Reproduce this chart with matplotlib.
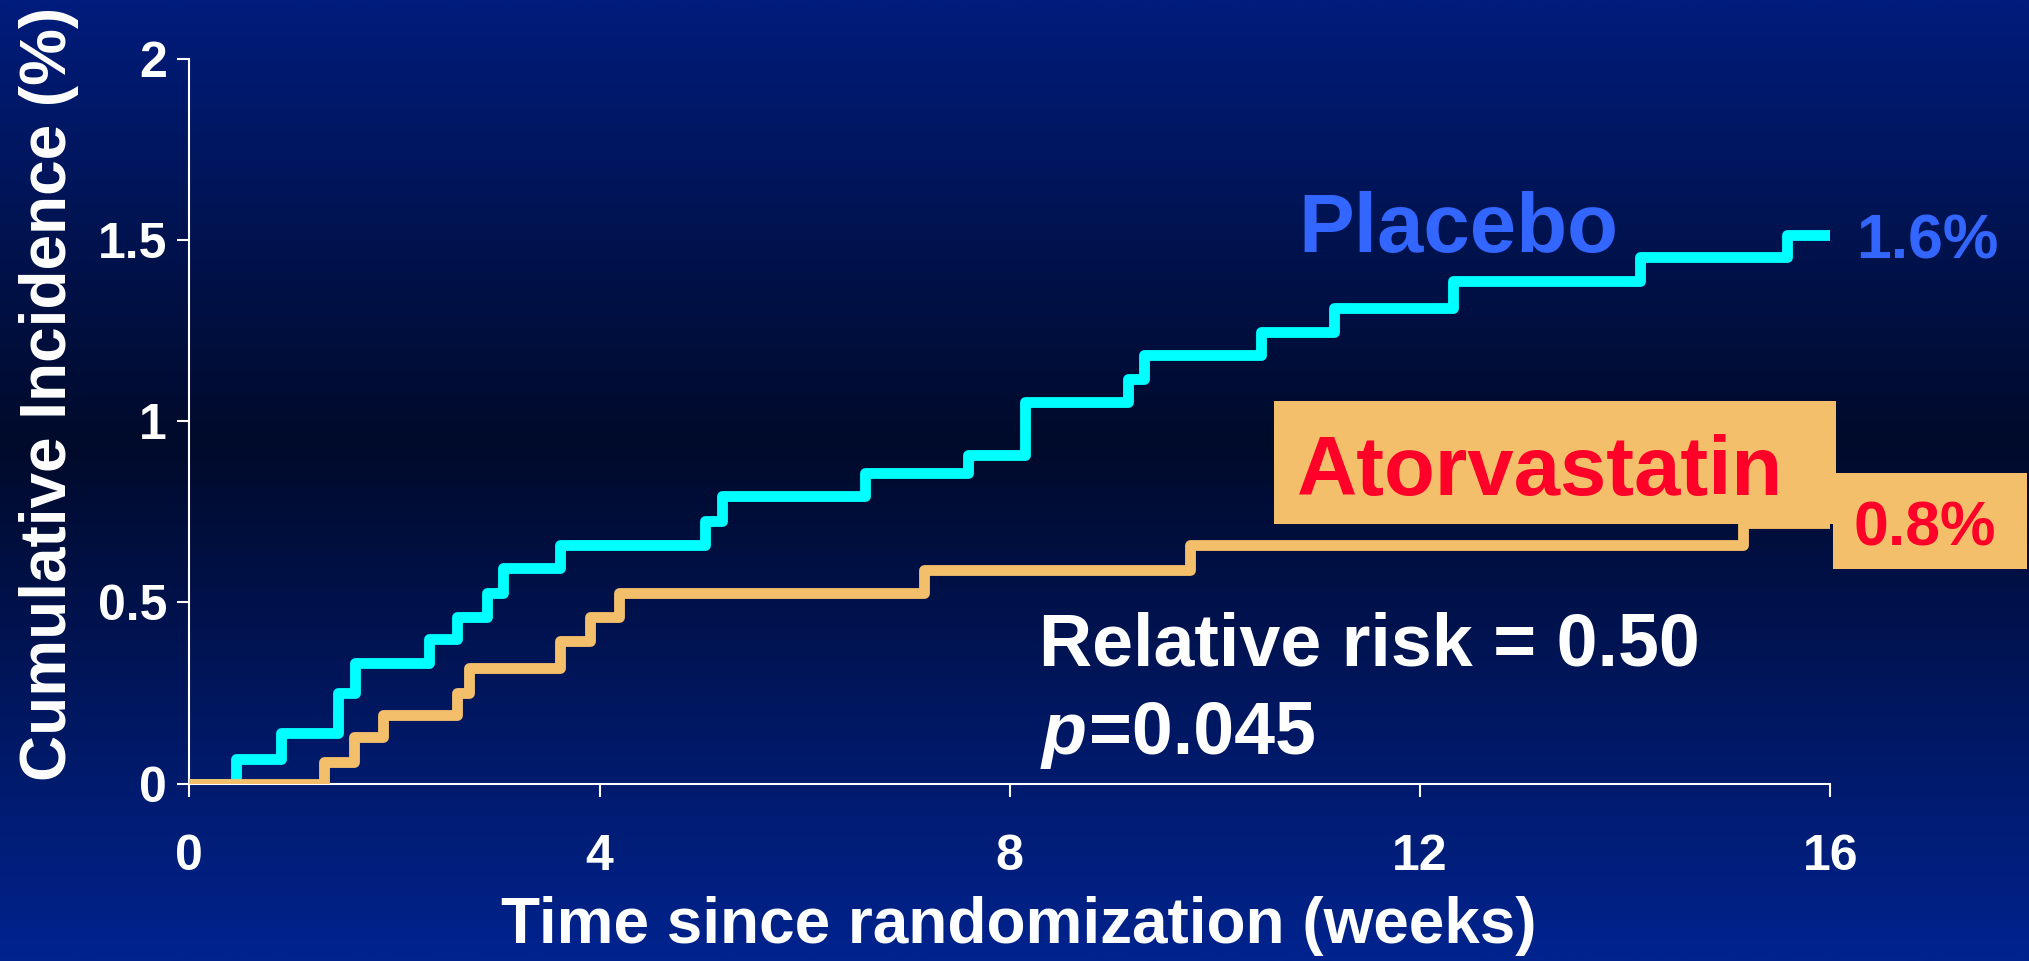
"""
Cumulative incidence of events, placebo vs atorvastatin (step curves on a slide-style blue background).
"""

import numpy as np
import matplotlib
matplotlib.use("Agg")
import matplotlib.pyplot as plt
from matplotlib.colors import LinearSegmentedColormap
from matplotlib.patches import Rectangle

plt.rcParams['font.family'] = ['Liberation Sans', 'DejaVu Sans']
plt.rcParams['font.weight'] = 'bold'

# Step curves (weeks, cumulative incidence in %).
placebo_weeks = [0, 0.46, 0.89, 1.45, 1.62, 2.34, 2.61, 2.90, 3.06, 3.61, 5.03, 5.19,
                 6.59, 7.59, 8.15, 9.15, 9.31, 10.45, 11.16, 12.32, 14.15, 15.58, 16.0]
placebo_pct = [0, 0.068, 0.139, 0.249, 0.332, 0.399, 0.461, 0.527, 0.594, 0.660, 0.724, 0.793,
               0.857, 0.907, 1.054, 1.117, 1.183, 1.246, 1.312, 1.387, 1.454, 1.515, 1.515]

atorva_weeks = [0, 1.31, 1.61, 1.89, 2.61, 2.73, 3.61, 3.91, 4.19, 7.16, 9.76, 15.15, 16.0]
atorva_pct = [0, 0.06, 0.129, 0.189, 0.249, 0.32, 0.394, 0.459, 0.525, 0.590, 0.658, 0.72, 0.72]

x_ticks = [0, 4, 8, 12, 16]
y_ticks = [0, 0.5, 1, 1.5, 2]
y_tick_labels = ["0", "0.5", "1", "1.5", "2"]

placebo_end = "1.6%"
atorva_end = "0.8%"
rr_text = "Relative risk = 0.50"
p_value = "=0.045"

cyan = "#00FFFF"
orange = "#F4BF6B"
red = "#FF0028"
blue = "#3366FF"

fig = plt.figure(figsize=(20.29, 9.61), dpi=100)

# background gradient
bg = fig.add_axes([0, 0, 1, 1], zorder=-5)
bg_cmap = LinearSegmentedColormap.from_list(
    "slide",
    [(0.0, (0/255, 28/255, 124/255)),
     (0.22, (0/255, 20/255, 84/255)),
     (0.46, (0/255, 10/255, 42/255)),
     (0.72, (0/255, 22/255, 92/255)),
     (1.0, (0/255, 35/255, 142/255))])
grad = np.linspace(0, 1, 512).reshape(-1, 1)
bg.imshow(grad, aspect='auto', cmap=bg_cmap, extent=[0, 1, 0, 1], origin='upper')
bg.axis('off')

ax = fig.add_axes([0.0933, 0.1847, 0.8087, 0.7535])
ax.set_facecolor('none')

ax.step(placebo_weeks, placebo_pct, where='post', color=cyan, lw=7.8,
        solid_joinstyle='round', solid_capstyle='butt', zorder=3)
ax.step(atorva_weeks, atorva_pct, where='post', color=orange, lw=7.8,
        solid_joinstyle='round', solid_capstyle='butt', zorder=4)

ax.set_xlim(0, 16)
ax.set_ylim(0, 2)
ax.set_xticks(x_ticks)
ax.set_yticks(y_ticks)
ax.set_yticklabels(y_tick_labels)

for s in ['top', 'right']:
    ax.spines[s].set_visible(False)
for s in ['left', 'bottom']:
    ax.spines[s].set_color('white')
    ax.spines[s].set_linewidth(1.5)

ax.tick_params(axis='both', colors='white', length=9, width=1.5, labelsize=36)
ax.tick_params(axis='x', pad=27)
ax.tick_params(axis='y', pad=7)

ax.set_xlabel("Time since randomization (weeks)", fontsize=46, color='white', fontweight='bold')
ax.set_ylabel("Cumulative Incidence (%)", fontsize=46, color='white', fontweight='bold')
ax.xaxis.set_label_coords(0.5057, -0.155)
ax.yaxis.set_label_coords(-0.067, 0.5386)

# labels
ax.text(10.81, 1.468, "Placebo", color=blue, fontsize=60, fontweight='bold', va='baseline', zorder=6)
ax.text(16.25, 1.451, placebo_end, color=blue, fontsize=45, fontweight='bold', va='baseline',
        clip_on=False, zorder=6)

# orange label boxes (figure fractions)
ax.add_patch(Rectangle((0.6279, 0.4547), 0.2770, 0.1280, transform=fig.transFigure,
                       facecolor=orange, edgecolor='none', zorder=5, clip_on=False))
ax.add_patch(Rectangle((0.9034, 0.4079), 0.0956, 0.0999, transform=fig.transFigure,
                       facecolor=orange, edgecolor='none', zorder=5, clip_on=False))

ax.text(10.80, 0.797, "Atorvastatin", color=red, fontsize=60, fontweight='bold', va='baseline',
        zorder=7, clip_on=False)
ax.text(16.23, 0.656, atorva_end, color=red, fontsize=45, fontweight='bold', va='baseline',
        zorder=7, clip_on=False)

ax.text(8.29, 0.327, rr_text, color='white', fontsize=53, fontweight='bold', va='baseline')
ax.text(8.31, 0.0815, "p", color='white', fontsize=53, fontweight='bold', style='italic', va='baseline')
ax.text(8.77, 0.0815, p_value, color='white', fontsize=53, fontweight='bold', va='baseline')

plt.savefig("out.png", dpi=100)
